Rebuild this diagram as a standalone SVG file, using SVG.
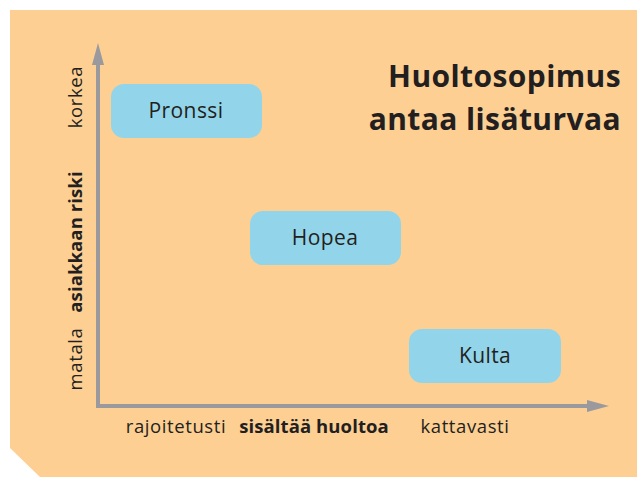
<svg xmlns="http://www.w3.org/2000/svg" width="637" height="477" viewBox="0 0 637 477">
<style>
.t{font-family:"Open Sans","Liberation Sans",sans-serif;fill:#231f20}
.box{fill:#92d5ea}
.lbl{font-size:21px;letter-spacing:0.4px;text-anchor:middle}
.ax{font-size:18.5px;letter-spacing:0.6px}
.b{font-weight:bold;letter-spacing:0.1px}
.title{font-size:30px;font-weight:bold;letter-spacing:0.4px;text-anchor:end}
.axis{stroke:#9a9a9e;stroke-width:4;fill:none}
.head{fill:#9a9a9e}
</style>
<polygon id="background" points="10,10 637,10 637,477 40,477 10,448" fill="#fdcf93"/>
<g id="connectors">
<polyline class="axis" points="98,62 98,406 590,406"/>
<polygon class="head" points="98,43 104,65 92,65"/>
<polygon class="head" points="609,406 587,400 587,412"/>
</g>
<g id="title">
<text class="t title" x="621" y="87">Huoltosopimus</text>
<text class="t title" x="621" y="130">antaa lisäturvaa</text>
</g>
<g id="pronssi">
<rect class="box" x="111" y="84" width="151" height="54" rx="13"/>
<text class="t lbl" x="186" y="118">Pronssi</text>
</g>
<g id="hopea">
<rect class="box" x="250" y="211" width="151" height="54" rx="13"/>
<text class="t lbl" x="325" y="245">Hopea</text>
</g>
<g id="kulta">
<rect class="box" x="409" y="329" width="152" height="54" rx="13"/>
<text class="t lbl" x="485" y="363">Kulta</text>
</g>
<g id="y-labels">
<text class="t ax" transform="translate(82,97) rotate(-90)" text-anchor="middle">korkea</text>
<text class="t ax b" transform="translate(82,242) rotate(-90)" text-anchor="middle">asiakkaan riski</text>
<text class="t ax" transform="translate(82,359) rotate(-90)" text-anchor="middle">matala</text>
</g>
<g id="x-labels">
<text class="t ax" x="176" y="433" text-anchor="middle">rajoitetusti</text>
<text class="t ax b" x="314" y="433" text-anchor="middle">sisältää huoltoa</text>
<text class="t ax" x="465" y="433" text-anchor="middle">kattavasti</text>
</g>
</svg>
